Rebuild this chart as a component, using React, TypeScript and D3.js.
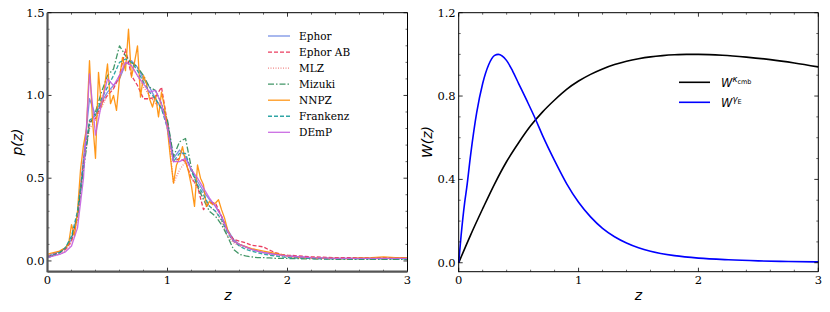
import * as d3 from "d3";

// shared redshift grid for the smoother estimators
const zGrid = [
  0, 0.05, 0.1, 0.15, 0.2, 0.25, 0.3, 0.35, 0.4, 0.45, 0.5, 0.55, 0.6, 0.65, 0.7, 0.75, 0.8, 0.85, 0.9, 0.95,
  1.0, 1.05, 1.1, 1.15, 1.2, 1.25, 1.3, 1.35, 1.4, 1.45, 1.5, 1.55, 1.6, 1.65, 1.7, 1.75, 1.8, 1.85, 1.9, 1.95,
  2.0, 2.2, 2.4, 2.6, 2.8, 3.0,
];

// finer grid for the jagged NNPZ curve
const zFine = [
  0, 0.025, 0.05, 0.075, 0.1, 0.125, 0.15, 0.175, 0.2, 0.225, 0.25, 0.275, 0.3, 0.325, 0.35, 0.375, 0.4, 0.425,
  0.45, 0.475, 0.5, 0.525, 0.55, 0.575, 0.6, 0.625, 0.65, 0.675, 0.7, 0.725, 0.75, 0.775, 0.8, 0.825, 0.85,
  0.875, 0.9, 0.925, 0.95, 0.975, 1.0, 1.025, 1.05, 1.075, 1.1, 1.125, 1.15, 1.175, 1.2, 1.225, 1.25, 1.275,
  1.3, 1.325, 1.35, 1.375, 1.4, 1.425, 1.45, 1.475, 1.5, 1.525, 1.55, 1.575, 1.6, 1.7, 1.8, 1.9, 2.0, 2.1,
  2.2, 2.3, 2.4, 2.5, 2.6, 2.7, 2.8, 2.9, 3.0,
];

const ephor = [
  0.03, 0.045, 0.055, 0.08, 0.13, 0.28, 0.62, 0.98, 0.88, 0.96, 1.02, 1.06, 1.1, 1.19, 1.21, 1.17, 1.1, 1.05, 0.98, 0.92,
  0.84, 0.62, 0.67, 0.63, 0.55, 0.48, 0.42, 0.37, 0.33, 0.27, 0.19, 0.13, 0.1, 0.085, 0.07, 0.06, 0.05, 0.045, 0.04, 0.035,
  0.03, 0.02, 0.015, 0.015, 0.015, 0.015,
];
const ephorAB = [
  0.025, 0.04, 0.05, 0.07, 0.12, 0.26, 0.6, 0.84, 0.86, 0.95, 1.0, 1.04, 1.12, 1.28, 1.12, 1.06, 0.98, 0.98, 0.99, 1.05,
  0.83, 0.6, 0.62, 0.6, 0.5, 0.45, 0.31, 0.35, 0.35, 0.27, 0.18, 0.13, 0.12, 0.11, 0.095, 0.09, 0.085, 0.065, 0.05, 0.04,
  0.035, 0.025, 0.02, 0.02, 0.02, 0.02,
];
const mlz = [
  0.02, 0.03, 0.04, 0.06, 0.11, 0.25, 0.58, 0.8, 0.85, 0.93, 1.0, 1.05, 1.1, 1.2, 1.18, 1.12, 1.05, 1.0, 0.95, 0.93,
  0.82, 0.47, 0.55, 0.6, 0.5, 0.44, 0.38, 0.33, 0.3, 0.24, 0.15, 0.11, 0.09, 0.08, 0.07, 0.06, 0.05, 0.04, 0.035, 0.03,
  0.025, 0.015, 0.012, 0.012, 0.012, 0.012,
];
const mizuki = [
  0.02, 0.035, 0.05, 0.08, 0.14, 0.27, 0.55, 0.82, 0.9, 1.02, 1.12, 1.16, 1.3, 1.24, 1.2, 1.17, 1.12, 1.05, 1.03, 0.95,
  0.85, 0.63, 0.72, 0.74, 0.56, 0.45, 0.37, 0.3, 0.27, 0.22, 0.15, 0.07, 0.04, 0.03, 0.025, 0.02, 0.02, 0.018, 0.016, 0.015,
  0.015, 0.012, 0.01, 0.01, 0.01, 0.01,
];
const nnpz = [
  0.04, 0.045, 0.05, 0.055, 0.06, 0.07, 0.08, 0.1, 0.22, 0.15, 0.3, 0.55, 0.7, 0.8, 1.21, 0.85, 0.62, 1.14,
  0.93, 1.05, 1.19, 0.95, 1.0, 0.91, 1.1, 1.23, 1.15, 1.4, 1.11, 1.2, 1.3, 0.99, 1.12, 1.07, 0.98,
  0.93, 1.0, 0.87, 1.02, 0.93, 0.79, 0.62, 0.47, 0.58, 0.62, 0.69, 0.6, 0.54, 0.45, 0.33, 0.58, 0.5,
  0.46, 0.33, 0.36, 0.34, 0.35, 0.37, 0.31, 0.26, 0.19, 0.15, 0.12, 0.11, 0.1, 0.075, 0.06, 0.045, 0.03, 0.02,
  0.018, 0.015, 0.016, 0.014, 0.018, 0.02, 0.025, 0.02, 0.02,
];
const frankenz = [
  0.02, 0.035, 0.05, 0.08, 0.15, 0.3, 0.58, 0.85, 0.88, 0.98, 1.05, 1.12, 1.2, 1.22, 1.2, 1.15, 1.08, 1.02, 0.98, 0.92,
  0.8, 0.6, 0.65, 0.65, 0.54, 0.46, 0.4, 0.33, 0.3, 0.25, 0.17, 0.12, 0.09, 0.07, 0.06, 0.05, 0.04, 0.035, 0.03, 0.025,
  0.02, 0.015, 0.012, 0.012, 0.012, 0.012,
];
const demp = [
  0.02, 0.03, 0.04, 0.055, 0.09, 0.2, 0.5, 1.13, 0.76, 0.95, 1.1, 1.06, 1.12, 1.2, 1.18, 1.12, 1.07, 1.02, 1.03, 0.95,
  0.8, 0.6, 0.6, 0.62, 0.55, 0.5, 0.44, 0.38, 0.33, 0.27, 0.18, 0.12, 0.1, 0.085, 0.07, 0.06, 0.05, 0.045, 0.04, 0.035,
  0.03, 0.02, 0.015, 0.015, 0.015, 0.015,
];

const pzSeries = [
  { name: "Ephor", z: zGrid, p: ephor, color: "#6b86e3", dash: "" },
  { name: "Ephor AB", z: zGrid, p: ephorAB, color: "#e8284f", dash: "4,2" },
  { name: "MLZ", z: zGrid, p: mlz, color: "#f07a7a", dash: "1,1.5" },
  { name: "Mizuki", z: zGrid, p: mizuki, color: "#2e8b57", dash: "6,2,1.5,2" },
  { name: "NNPZ", z: zFine, p: nnpz, color: "#ff8c00", dash: "" },
  { name: "Frankenz", z: zGrid, p: frankenz, color: "#1a9b9b", dash: "4,2" },
  { name: "DEmP", z: zGrid, p: demp, color: "#c45ee0", dash: "" },
];

// lensing kernels, right panel
const zKappa = [0, 0.1, 0.2, 0.3, 0.4, 0.5, 0.6, 0.7, 0.8, 0.9, 1.0, 1.1, 1.2, 1.3, 1.4, 1.5, 1.6, 1.7, 1.8, 1.9, 2.0, 2.2, 2.4, 2.6, 2.8, 3.0];
const wKappa = [
  0, 0.134, 0.259, 0.379, 0.486, 0.576, 0.657, 0.724, 0.781, 0.832, 0.872, 0.904, 0.93, 0.951, 0.967, 0.979, 0.988,
  0.994, 0.998, 1.0, 1.0, 0.996, 0.987, 0.975, 0.959, 0.94,
];
const zGamma = [
  0, 0.02, 0.05, 0.067, 0.1, 0.15, 0.2, 0.25, 0.3, 0.33, 0.4, 0.45, 0.5, 0.567, 0.64, 0.7, 0.8, 0.9, 1.0, 1.1, 1.2,
  1.3, 1.4, 1.5, 1.6, 1.8, 2.0, 2.25, 2.5, 2.75, 3.0,
];
const wGamma = [
  0, 0.13, 0.29, 0.36, 0.52, 0.72, 0.86, 0.95, 0.995, 1.0, 0.97, 0.92, 0.86, 0.78, 0.69, 0.61, 0.49, 0.38, 0.29, 0.22,
  0.165, 0.125, 0.095, 0.072, 0.055, 0.034, 0.022, 0.014, 0.009, 0.006, 0.004,
];

const xTicks = [0, 1, 2, 3];
const pTicks = [0, 0.5, 1, 1.5];
const wTicks = [0, 0.4, 0.8, 1.2];

const serif = "'DejaVu Serif', serif";
const sans = "'DejaVu Sans', sans-serif";

type Scale = d3.ScaleLinear<number, number>;

function Frame({ x, y, yMajor, yMinorStep, yFmt, spine }: {
  x: Scale; y: Scale; yMajor: number[]; yMinorStep: number; yFmt: (v: number) => string; spine: string;
}) {
  const [x0, x1] = x.range();
  const [y0, y1] = y.range(); // y0 bottom, y1 top
  const xMinor = d3.range(0, 3.0001, 0.2).filter((v) => !xTicks.some((t) => Math.abs(t - v) < 1e-6));
  const yMax = yMajor[yMajor.length - 1];
  const yMinor = d3.range(0, yMax + 1e-6, yMinorStep).filter((v) => !yMajor.some((t) => Math.abs(t - v) < 1e-6));
  return (
    <g>
      {xTicks.map((t) => (
        <g key={"xt" + t}>
          <line x1={x(t)} x2={x(t)} y1={y0} y2={y0 - 4} stroke="#000" strokeWidth={0.8} />
          <line x1={x(t)} x2={x(t)} y1={y1} y2={y1 + 4} stroke="#000" strokeWidth={0.8} />
          <text x={x(t)} y={y0 + 12} textAnchor="middle" fontFamily={serif} fontSize={11.5}>{t}</text>
        </g>
      ))}
      {xMinor.map((t) => (
        <g key={"xm" + t}>
          <line x1={x(t)} x2={x(t)} y1={y0} y2={y0 - 2} stroke="#000" strokeWidth={0.6} />
          <line x1={x(t)} x2={x(t)} y1={y1} y2={y1 + 2} stroke="#000" strokeWidth={0.6} />
        </g>
      ))}
      {yMajor.map((t) => (
        <g key={"yt" + t}>
          <line x1={x0} x2={x0 + 4} y1={y(t)} y2={y(t)} stroke="#000" strokeWidth={0.8} />
          <line x1={x1} x2={x1 - 4} y1={y(t)} y2={y(t)} stroke="#000" strokeWidth={0.8} />
          <text x={x0 - 3} y={y(t) + 4} textAnchor="end" fontFamily={serif} fontSize={11.5}>{yFmt(t)}</text>
        </g>
      ))}
      {yMinor.map((t) => (
        <g key={"ym" + t}>
          <line x1={x0} x2={x0 + 2} y1={y(t)} y2={y(t)} stroke="#000" strokeWidth={0.6} />
          <line x1={x1} x2={x1 - 2} y1={y(t)} y2={y(t)} stroke="#000" strokeWidth={0.6} />
        </g>
      ))}
      <line x1={x0} x2={x1} y1={y1} y2={y1} stroke="#000" strokeWidth={1} />
      <line x1={x1} x2={x1} y1={y0} y2={y1} stroke="#000" strokeWidth={1} />
      <line x1={x0} x2={x0} y1={y0 + 0.5} y2={y1} stroke={spine} strokeWidth={spine === "#000" ? 1 : 2.2} />
      <line x1={x0} x2={x1} y1={y0} y2={y0} stroke={spine} strokeWidth={spine === "#000" ? 1 : 2.2} />
    </g>
  );
}

export default function App() {
  const xL = d3.scaleLinear().domain([0, 3]).range([47.5, 407.5]);
  const yL = d3.scaleLinear().domain([-0.065, 1.5]).range([271.7, 12.7]);
  const xR = d3.scaleLinear().domain([0, 3]).range([458.7, 818.3]);
  const yR = d3.scaleLinear().domain([-0.043, 1.2]).range([271.7, 12.7]);

  const lineL = (zs: number[], ps: number[]) =>
    d3.line<number>().x((_, i) => xL(zs[i])).y((d) => yL(d))(ps) || "";
  const lineR = (zs: number[], ws: number[]) =>
    d3.line<number>().x((_, i) => xR(zs[i])).y((d) => yR(d)).curve(d3.curveMonotoneX)(ws) || "";

  return (
    <svg width={830} height={312} style={{ position: "absolute", left: 0, top: 0, background: "#fff" }}>
      {/* left panel: p(z) */}
      {pzSeries.map((s) => (
        <path key={s.name} d={lineL(s.z, s.p)} fill="none" stroke={s.color} strokeWidth={1.3}
          strokeDasharray={s.dash} strokeOpacity={0.9} strokeLinejoin="round" />
      ))}
      <Frame x={xL} y={yL} yMajor={pTicks} yMinorStep={0.1} yFmt={d3.format(".1f")} spine="#555" />
      {pzSeries.map((s, i) => (
        <g key={"lg" + s.name} transform={`translate(0,${36 + i * 16.05})`}>
          <line x1={268} x2={290} y1={0} y2={0} stroke={s.color} strokeWidth={1.3} strokeDasharray={s.dash} strokeOpacity={0.9} />
          <text x={299} y={4} fontFamily={serif} fontSize={10.5}>{s.name}</text>
        </g>
      ))}
      <text transform={`translate(22,142) rotate(-90)`} textAnchor="middle" fontFamily={sans} fontStyle="italic" fontSize={14}>p(z)</text>
      <text x={228} y={300} textAnchor="middle" fontFamily={sans} fontStyle="italic" fontSize={14}>z</text>

      {/* right panel: lensing kernels */}
      <path d={lineR(zKappa, wKappa)} fill="none" stroke="#000" strokeWidth={1.6} />
      <path d={lineR(zGamma, wGamma)} fill="none" stroke="#0000ff" strokeWidth={1.6} />
      <Frame x={xR} y={yR} yMajor={wTicks} yMinorStep={0.1} yFmt={d3.format(".1f")} spine="#000" />
      <line x1={679} x2={710} y1={82.3} y2={82.3} stroke="#000" strokeWidth={1.6} />
      <text x={721} y={86.5} fontFamily={sans} fontStyle="italic" fontSize={11.5}>
        W<tspan dy={-5} fontSize={8.5}>κ</tspan><tspan dy={2} fontSize={6.5} fontStyle="normal">cmb</tspan>
      </text>
      <line x1={679} x2={710} y1={102.3} y2={102.3} stroke="#0000ff" strokeWidth={1.6} />
      <text x={721} y={106.5} fontFamily={sans} fontStyle="italic" fontSize={11.5}>
        W<tspan dy={-5} fontSize={8.5}>γ</tspan><tspan dy={2} fontSize={6.5} fontStyle="normal">E</tspan>
      </text>
      <text transform={`translate(432,142) rotate(-90)`} textAnchor="middle" fontFamily={sans} fontStyle="italic" fontSize={14}>W(z)</text>
      <text x={638.5} y={300} textAnchor="middle" fontFamily={sans} fontStyle="italic" fontSize={14}>z</text>
    </svg>
  );
}
